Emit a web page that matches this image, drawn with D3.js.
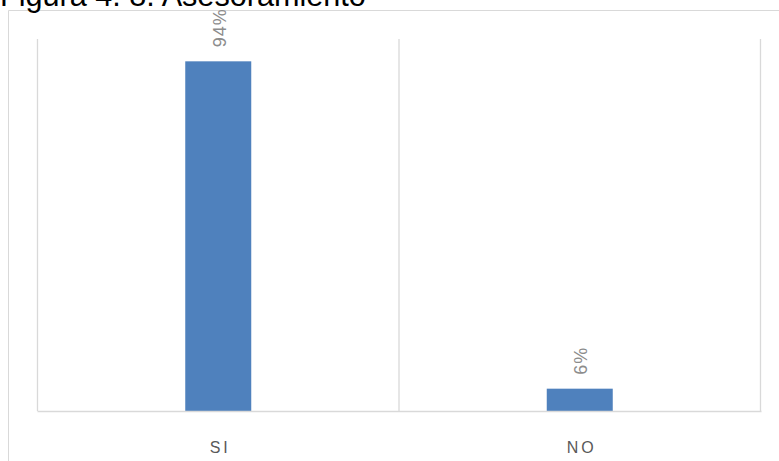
<!DOCTYPE html>
<html><head><meta charset="utf-8">
<script src="https://cdn.jsdelivr.net/npm/d3@7"></script>
<style>html,body{margin:0;padding:0;background:#fff;}svg{display:block;}</style>
</head><body>
<script>
const title = "Figura 4. 8. Asesoramiento";
const categories = ["SI", "NO"];
const values = [0.94, 0.06];
const labels = ["94%", "6%"];

const W = 779, H = 461;
const svg = d3.select("body").append("svg").attr("width", W).attr("height", H);

const plot = {left: 37.5, right: 760.5, top: 39, bottom: 411};
const x = d3.scaleBand().domain(categories).range([plot.left, plot.right]).paddingInner(0).paddingOuter(0);
const y = d3.scaleLinear().domain([0, 1]).range([plot.bottom, plot.top]);
const barW = 66;

// outer frame
svg.append("line").attr("x1", 8.5).attr("x2", W).attr("y1", 10.5).attr("y2", 10.5).attr("stroke", "#d9d9d9");
svg.append("line").attr("x1", 8.5).attr("x2", 8.5).attr("y1", 10.5).attr("y2", H).attr("stroke", "#d9d9d9");

// vertical gridlines at band boundaries
const bounds = [plot.left].concat(categories.map(c => x(c) + x.bandwidth()));
svg.selectAll(".vg").data(bounds).enter().append("line")
  .attr("x1", d => d).attr("x2", d => d)
  .attr("y1", plot.top).attr("y2", plot.bottom)
  .attr("stroke", "#d9d9d9").attr("stroke-width", 1.3);

// bars
svg.selectAll(".bar").data(values).enter().append("rect")
  .attr("x", (d, i) => x(categories[i]) + x.bandwidth() / 2 - barW / 2)
  .attr("y", d => y(d))
  .attr("width", barW)
  .attr("height", d => y(0) - y(d))
  .attr("fill", "#4f81bd");

// baseline
svg.append("line").attr("x1", plot.left).attr("x2", plot.right + 1)
  .attr("y1", plot.bottom + 0.5).attr("y2", plot.bottom + 0.5)
  .attr("stroke", "#d9d9d9").attr("stroke-width", 1.5);

// data labels (rotated)
svg.selectAll(".lbl").data(values).enter().append("text")
  .attr("transform", (d, i) => {
    const cx = x(categories[i]) + x.bandwidth() / 2 + 1;
    return `translate(${cx},${y(d) - 14}) rotate(-90)`;
  })
  .attr("dy", "0.35em")
  .attr("text-anchor", "start")
  .attr("font-family", "Liberation Sans, Arial, sans-serif")
  .attr("font-size", 18)
  .attr("letter-spacing", "1px")
  .attr("fill", "#8c8c8c")
  .text((d, i) => labels[i]);

// category labels
svg.selectAll(".cat").data(categories).enter().append("text")
  .attr("x", d => x(d) + x.bandwidth() / 2 + 2)
  .attr("y", 453)
  .attr("text-anchor", "middle")
  .attr("font-family", "Liberation Sans, Arial, sans-serif")
  .attr("font-size", 16)
  .attr("letter-spacing", "3px")
  .attr("fill", "#595959")
  .text(d => d);

// title (partially cut at top)
const t = svg.append("text")
  .attr("x", 0).attr("y", 6)
  .attr("font-family", "Liberation Sans, Arial, sans-serif")
  .attr("font-size", 27)
  .attr("fill", "#000")
  .text(title);
const len = t.node().getComputedTextLength();
t.attr("font-size", 27 * 366 / len);
</script>
</body></html>
